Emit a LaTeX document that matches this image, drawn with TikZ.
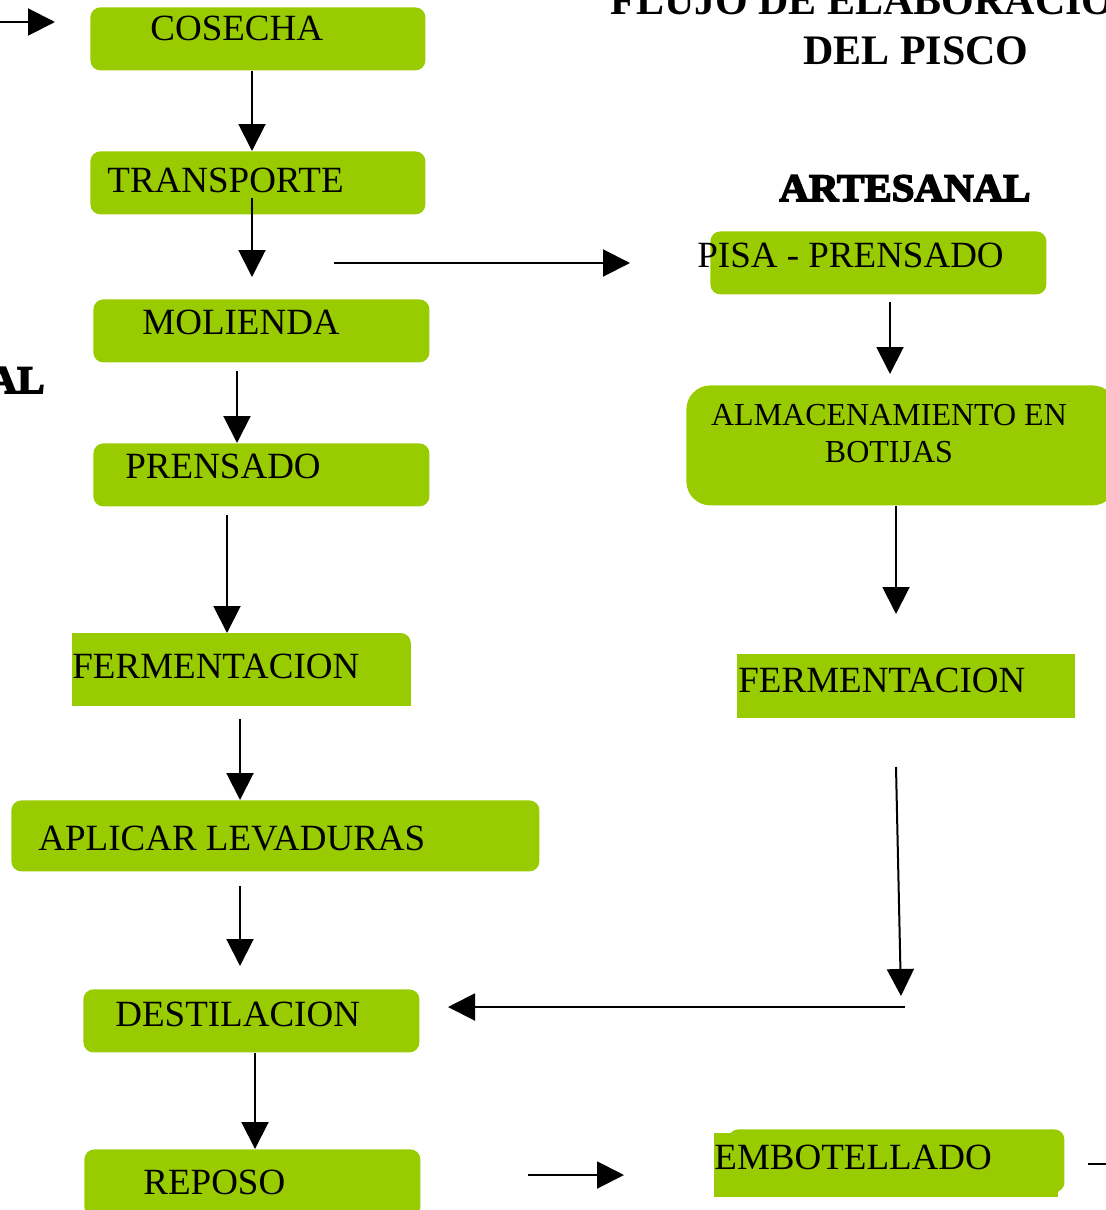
\documentclass[tikz,border=0pt]{standalone}
\usepackage{fontspec}
\setmainfont{Liberation Serif}
\newfontfamily\heavyfont{Liberation Serif}[BoldFeatures={FakeBold=4,FakeStretch=1.05}]
\usetikzlibrary{arrows.meta}
\definecolor{boxgreen}{RGB}{153,204,0}
\begin{document}
\begin{tikzpicture}[x=0.5pt,y=-0.5pt,
  box/.style={fill=boxgreen,rounded corners=5pt,inner sep=0pt,anchor=north west,minimum width=168pt,minimum height=31.5pt},
  sbox/.style={box,sharp corners},
  lbl/.style={anchor=base west,inner sep=0pt,font=\fontsize{18.5}{22}\selectfont},
  arr/.style={line width=1pt,-{Triangle[length=13.5pt,width=13.5pt]}},
  ttl/.style={anchor=base west,inner sep=0pt,font=\fontsize{21}{25}\selectfont\bfseries},
  hvy/.style={inner sep=0pt,font=\fontsize{19.5}{23}\selectfont\heavyfont\bfseries}]
\useasboundingbox (0,0) rectangle (1106,1210);

% titles
\node[ttl] (t1) at (610,14) {FLUJO DE ELABORACION};
\node[ttl] (t2) at (803,64) {DEL PISCO};
\node[hvy,anchor=base west] (art) at (779,201) {ARTESANAL};
\node[hvy,anchor=base east] (ind) at (45,393) {AL};

% left column boxes
\node[box,minimum width=167.5pt] (cosecha) at (90,7) {};
\node[box,minimum width=167.5pt] (transporte) at (90,151) {};
\node[box] (molienda) at (93,299) {};
\node[box] (prensado) at (93,443) {};
\node[inner sep=0pt,anchor=north west,minimum width=169pt,minimum height=36pt] (fermL) at (72,633) {};
\fill[boxgreen] (fermL.south west) -- (fermL.north west) [rounded corners=5pt] -- (fermL.north east) [sharp corners] -- (fermL.south east) -- cycle;
\node[box,minimum width=264pt,minimum height=35.5pt] (aplicar) at (11,800) {};
\node[box] (destilacion) at (83,989) {};
\node[box,minimum height=34pt] (reposo) at (84,1149) {};

% right column boxes
\node[box] (pisa) at (710,231) {};
\node[box,rounded corners=12pt,minimum width=215pt,minimum height=60pt] (almacen) at (686,385) {};
\node[sbox,minimum width=169pt,minimum height=32pt] (fermR) at (737,654) {};
\node[sbox,minimum width=172pt,minimum height=32pt] (embot) at (714,1133) {};
\node[box,minimum width=168pt,minimum height=31.5pt] (embotb) at (728,1129) {};

% labels
\node[lbl] (lcos) at (150,40) {COSECHA};
\node[lbl] (ltra) at (107,192) {TRANSPORTE};
\node[lbl] (lmol) at (142,334) {MOLIENDA};
\node[lbl] (lpre) at (125,478) {PRENSADO};
\node[lbl] (lferL) at (72,678) {FERMENTACION};
\node[lbl] (lapl) at (38,850) {APLICAR LEVADURAS};
\node[lbl] (ldes) at (115,1026) {DESTILACION};
\node[lbl] (lrep) at (143,1194) {REPOSO};
\node[lbl] (lpis) at (697,267) {PISA - PRENSADO};
\node[anchor=base,inner sep=0pt,align=center,font=\fontsize{16}{18.5}\selectfont] (lalm) at (889,462) {ALMACENAMIENTO EN\\BOTIJAS};
\node[lbl] (lferR) at (738,692) {FERMENTACION};
\node[lbl] (lemb) at (714,1169) {EMBOTELLADO};

% coordinates for connector ends
\coordinate (in0) at (0,22);
\coordinate (in1) at (55,22);
\coordinate (x252) at (252,0);
\coordinate (a2s) at (252,198);
\coordinate (a2e) at (252,277);
\coordinate (a3s) at (334,263);
\coordinate (a3e) at (630,263);
\coordinate (a4s) at (237,371);
\coordinate (x237) at (237,0);
\coordinate (a5s) at (227,515);
\coordinate (x227) at (227,0);
\coordinate (a6s) at (240,719);
\coordinate (x240) at (240,0);
\coordinate (a7s) at (240,886);
\coordinate (a7e) at (240,966);
\coordinate (x255) at (255,0);
\coordinate (a9s) at (528,1175);
\coordinate (a9e) at (624,1175);
\coordinate (b1s) at (890,302);
\coordinate (b1e) at (890,374);
\coordinate (x896) at (896,0);
\coordinate (b2e) at (896,614);
\coordinate (b3s) at (896,767);
\coordinate (b3e) at (901,996);
\coordinate (b4s) at (905,1007);
\coordinate (b4e) at (448,1007);
\coordinate (b5s) at (1088,1164);
\coordinate (b5e) at (1108,1164);

% connectors
\draw[arr] (in0) -- (in1);
\draw[arr] (cosecha.south -| x252) -- (transporte.north -| x252);
\draw[arr] (a2s) -- (a2e);
\draw[arr] (a3s) -- (a3e);
\draw[arr] (a4s) -- (prensado.north -| x237);
\draw[arr] (a5s) -- (fermL.north -| x227);
\draw[arr] (a6s) -- (aplicar.north -| x240);
\draw[arr] (a7s) -- (a7e);
\draw[arr] (destilacion.south -| x255) -- (reposo.north -| x255);
\draw[arr] (a9s) -- (a9e);
\draw[arr] (b1s) -- (b1e);
\draw[arr] (almacen.south -| x896) -- (b2e);
\draw[arr] (b3s) -- (b3e);
\draw[arr] (b4s) -- (b4e);
\draw[line width=1pt] (b5s) -- (b5e);
\end{tikzpicture}
\end{document}
